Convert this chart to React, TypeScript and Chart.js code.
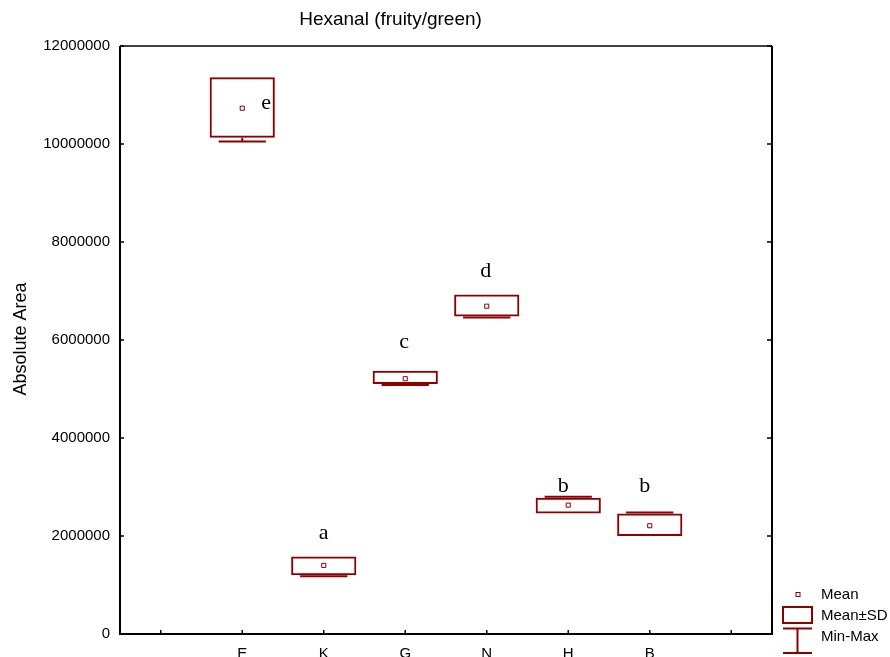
import React, { useEffect, useRef } from 'react';
import { Chart, registerables } from 'chart.js';

Chart.register(...registerables);

// ---- Data ----
const categories = ['', 'E', 'K', 'G', 'N', 'H', 'B', ''];
const means = [null, 10730000, 1400000, 5210000, 6690000, 2630000, 2210000, null];
const sdLow = [null, 10130000, 1200000, 5100000, 6480000, 2460000, 2000000, null];
const sdHigh = [null, 11360000, 1580000, 5370000, 6930000, 2780000, 2460000, null];
const minValues = [null, 10050000, 1180000, 5080000, 6460000, 2460000, 2000000, null];
const maxValues = [null, 11360000, 1580000, 5370000, 6930000, 2800000, 2480000, null];
const groupLetters = ['', 'e', 'a', 'c', 'd', 'b', 'b', ''];
const letterValues = [null, 10715000, 1940000, 5840000, 7290000, 2890000, 2890000, null];
const yTickValues = [0, 2000000, 4000000, 6000000, 8000000, 10000000, 12000000];
const chartTitle = 'Hexanal (fruity/green)';
const yAxisTitle = 'Absolute Area';
const legendLabels = ['Mean', 'Mean\u00B1SD', 'Min-Max'];

const RED = '#8B0000';
const SANS = '"Liberation Sans", Arial, sans-serif';
const SERIF = '"Liberation Serif", "Times New Roman", serif';
const letterShift: Record<string, number> = { E: 24, H: -5, B: -5, G: -1, N: -1 };

const whiskerPlugin = {
  id: 'whiskers',
  beforeDatasetsDraw(chart: any) {
    const ctx = chart.ctx;
    const xs = chart.scales.x;
    const ys = chart.scales.y;
    const catW = (chart.chartArea.right - chart.chartArea.left) / categories.length;
    const capHalf = catW * 0.29;
    ctx.save();
    ctx.strokeStyle = RED;
    ctx.lineWidth = 2;
    categories.forEach((_, i) => {
      if (means[i] == null) return;
      const cx = xs.getPixelForValue(i);
      ctx.beginPath();
      if ((minValues[i] as number) < (sdLow[i] as number)) {
        const pMin = ys.getPixelForValue(minValues[i]);
        const pLo = ys.getPixelForValue(sdLow[i]);
        ctx.moveTo(cx, pLo);
        ctx.lineTo(cx, pMin);
        ctx.moveTo(cx - capHalf, pMin);
        ctx.lineTo(cx + capHalf, pMin);
      }
      if ((maxValues[i] as number) > (sdHigh[i] as number)) {
        const pMax = ys.getPixelForValue(maxValues[i]);
        const pHi = ys.getPixelForValue(sdHigh[i]);
        ctx.moveTo(cx, pHi);
        ctx.lineTo(cx, pMax);
        ctx.moveTo(cx - capHalf, pMax);
        ctx.lineTo(cx + capHalf, pMax);
      }
      ctx.stroke();
    });
    ctx.restore();
  },
  afterDraw(chart: any) {
    const ctx = chart.ctx;
    const xs = chart.scales.x;
    const ys = chart.scales.y;
    const { left, right, top, bottom } = chart.chartArea;
    ctx.save();
    // frame
    ctx.strokeStyle = '#000';
    ctx.lineWidth = 2;
    ctx.beginPath();
    ctx.moveTo(left, top);
    ctx.lineTo(left, bottom);
    ctx.lineTo(right, bottom);
    ctx.lineTo(right, top);
    ctx.stroke();
    ctx.lineWidth = 1.5;
    ctx.beginPath();
    ctx.moveTo(left, top);
    ctx.lineTo(right, top);
    ctx.stroke();
    // inward ticks
    ctx.lineWidth = 1.5;
    ctx.beginPath();
    yTickValues.forEach((v) => {
      const py = ys.getPixelForValue(v);
      ctx.moveTo(left, py);
      ctx.lineTo(left + 4, py);
      ctx.moveTo(right, py);
      ctx.lineTo(right - 5, py);
    });
    categories.forEach((_, i) => {
      const px = xs.getPixelForValue(i);
      ctx.moveTo(px, bottom);
      ctx.lineTo(px, bottom - 4);
    });
    ctx.stroke();

    // group letters
    ctx.fillStyle = '#000';
    ctx.font = '22px ' + SERIF;
    ctx.textAlign = 'center';
    ctx.textBaseline = 'alphabetic';
    groupLetters.forEach((l, i) => {
      if (!l || letterValues[i] == null) return;
      const cx = xs.getPixelForValue(i) + (letterShift[categories[i]] || 0);
      ctx.fillText(l, cx, ys.getPixelForValue(letterValues[i]));
    });

    // title
    ctx.font = '19px ' + SANS;
    ctx.textAlign = 'center';
    ctx.textBaseline = 'alphabetic';
    ctx.fillText(chartTitle, 390.5, 25);

    // y axis title
    ctx.save();
    ctx.translate(21, 339);
    ctx.rotate(-Math.PI / 2);
    ctx.font = '18px ' + SANS;
    ctx.textAlign = 'center';
    ctx.textBaseline = 'middle';
    ctx.fillText(yAxisTitle, 0, 0);
    ctx.restore();

    // legend
    ctx.strokeStyle = RED;
    ctx.fillStyle = '#fff';
    ctx.lineWidth = 1;
    ctx.fillRect(796, 592.5, 4, 4);
    ctx.strokeRect(796, 592.5, 4, 4);
    ctx.lineWidth = 2;
    ctx.strokeRect(783, 607, 29, 16);
    ctx.beginPath();
    ctx.moveTo(783, 628.5);
    ctx.lineTo(812, 628.5);
    ctx.moveTo(797.5, 628.5);
    ctx.lineTo(797.5, 653);
    ctx.moveTo(783, 653);
    ctx.lineTo(812, 653);
    ctx.stroke();
    ctx.fillStyle = '#000';
    ctx.font = '15px ' + SANS;
    ctx.textAlign = 'left';
    ctx.textBaseline = 'middle';
    ctx.fillText(legendLabels[0], 821, 595);
    ctx.fillText(legendLabels[1], 821, 615.5);
    ctx.fillText(legendLabels[2], 821, 637);
    ctx.restore();
  },
};

export default function App() {
  const canvasRef = useRef<HTMLCanvasElement | null>(null);

  useEffect(() => {
    const canvas = canvasRef.current;
    if (!canvas) return;
    const chart = new Chart(canvas, {
      type: 'bar',
      data: {
        labels: categories,
        datasets: [
          {
            type: 'line',
            label: 'Mean',
            data: means as any,
            showLine: false,
            pointStyle: 'rect',
            pointRadius: 2.9,
            pointHoverRadius: 2.9,
            pointBorderWidth: 1,
            pointBorderColor: RED,
            pointBackgroundColor: '#fff',
            order: 0,
          } as any,
          {
            type: 'bar',
            label: 'Mean±SD',
            data: categories.map((_, i) =>
              sdLow[i] == null ? null : [sdLow[i], sdHigh[i]]
            ) as any,
            borderColor: RED,
            backgroundColor: 'rgba(255,255,255,0)',
            borderWidth: 2,
            borderSkipped: false,
            barPercentage: 0.8,
            categoryPercentage: 1,
            order: 1,
          } as any,
        ],
      },
      options: {
        responsive: false,
        animation: false,
        layout: { padding: { left: 0, top: 46, right: 118, bottom: 0 } },
        plugins: {
          legend: { display: false },
          title: { display: false },
          tooltip: { enabled: false },
        },
        scales: {
          x: {
            type: 'category',
            offset: true,
            grid: { display: false, drawTicks: false },
            border: { display: false },
            ticks: {
              color: '#000',
              font: { family: SANS, size: 15 },
              padding: 11,
              maxRotation: 0,
              autoSkip: false,
            },
            afterFit: (s: any) => {
              s.height = 23;
            },
          },
          y: {
            type: 'linear',
            min: 0,
            max: 12000000,
            grid: { display: false, drawTicks: false },
            border: { display: false },
            afterBuildTicks: (s: any) => {
              s.ticks = yTickValues.map((v) => ({ value: v }));
            },
            ticks: {
              color: '#000',
              font: { family: SANS, size: 15 },
              padding: 10,
              callback: (v: any) => String(v),
            },
            afterFit: (s: any) => {
              s.width = 120;
            },
          },
        },
      } as any,
      plugins: [whiskerPlugin],
    });
    return () => chart.destroy();
  }, []);

  return (
    <div
      style={{
        position: 'absolute',
        left: 0,
        top: 0,
        width: 890,
        height: 657,
        background: '#fff',
      }}
    >
      <canvas ref={canvasRef} width={890} height={657} style={{ display: 'block' }} />
    </div>
  );
}
